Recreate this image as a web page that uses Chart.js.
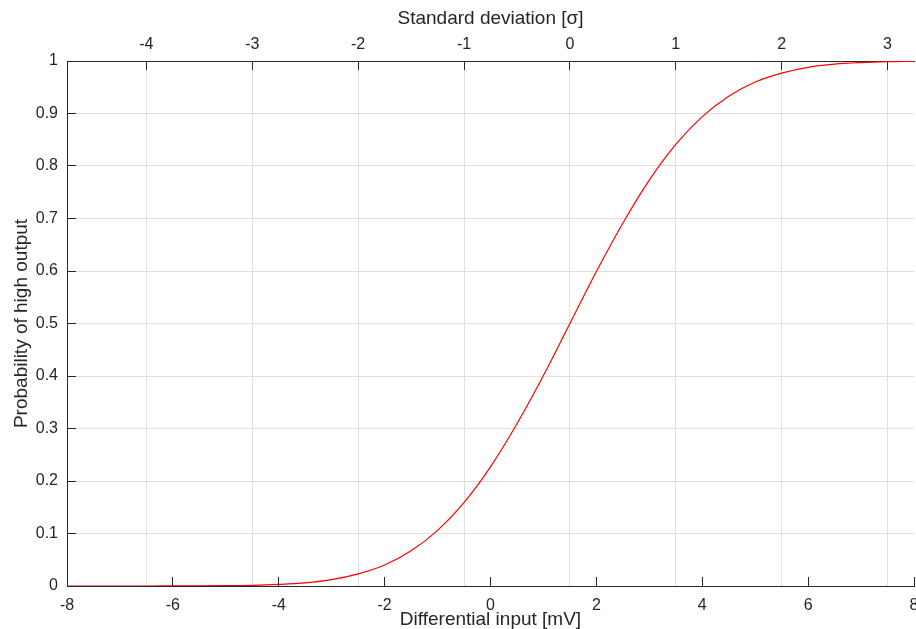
<!DOCTYPE html>
<html>
<head>
<meta charset="utf-8">
<title>Probability of high output</title>
<script src="https://cdn.jsdelivr.net/npm/chart.js@4.4.1/dist/chart.umd.min.js"></script>
<style>
  html, body { margin: 0; padding: 0; background: #fff; }
  canvas { display: block; }
</style>
</head>
<body>
<canvas id="chart" width="916" height="629"></canvas>
<script>
// Datos (curva en forma de S)
const inputMv = [-8, -7.5, -7, -6.5, -6, -5.5, -5, -4.5, -4, -3.5, -3, -2.5, -2, -1.5, -1, -0.5,
                 0, 0.5, 1, 1.5, 2, 2.5, 3, 3.5, 4, 4.5, 5, 5.5, 6, 6.5, 7, 7.5, 8];
const probHigh = [0, 0, 0, 0, 0.0001, 0.0002, 0.0006, 0.0013, 0.003, 0.006, 0.012, 0.023, 0.040, 0.067, 0.106, 0.159,
                  0.227, 0.309, 0.401, 0.5, 0.599, 0.691, 0.773, 0.841, 0.894, 0.933, 0.960, 0.977, 0.988, 0.994, 0.997, 0.9987, 0.9994];

// Ticks de los ejes
const mvTicks = [-8, -6, -4, -2, 0, 2, 4, 6, 8];
const sigmaTicks = [-4, -3, -2, -1, 0, 1, 2, 3];
const probTicks = [0, 0.1, 0.2, 0.3, 0.4, 0.5, 0.6, 0.7, 0.8, 0.9, 1];
const sigmaRange = [-4.75, 3.25];

const axisColor = '#262626';
const gridColor = '#dfdfdf';
const fontFamily = '"Liberation Sans", Arial, Helvetica, sans-serif';

const setTicks = (values) => (scale) => {
    scale.ticks = values.map(v => ({ value: v }));
};

// sin padding automático a los lados (la etiqueta "8" queda cortada como en el original)
const fitHorizontal = (height) => (scale) => {
    scale.height = height;
    scale.paddingLeft = 0;
    scale.paddingRight = 0;
};

new Chart(document.getElementById('chart'), {
    type: 'line',
    data: {
        datasets: [{
            data: inputMv.map((x, i) => ({ x, y: probHigh[i] })),
            borderColor: '#ff0000',
            borderWidth: 1.2,
            pointRadius: 0,
            fill: false,
            cubicInterpolationMode: 'monotone',
            xAxisID: 'x',
            yAxisID: 'y'
        }]
    },
    options: {
        responsive: false,
        animation: false,
        layout: { autoPadding: false, padding: { left: 0, top: 0, right: 2, bottom: 0 } },
        plugins: { legend: { display: false }, tooltip: { enabled: false } },
        scales: {
            x: {
                type: 'linear',
                position: 'bottom',
                min: -8,
                max: 8,
                afterBuildTicks: setTicks(mvTicks),
                afterFit: fitHorizontal(43),
                border: { display: true, color: axisColor, width: 1 },
                grid: { drawOnChartArea: false, drawTicks: true, tickLength: -9, tickColor: axisColor },
                ticks: { color: axisColor, padding: 19, maxRotation: 0, autoSkip: false,
                         font: { family: fontFamily, size: 16 } },
                title: { display: true, text: 'Differential input [mV]', color: axisColor,
                         padding: { top: 0, bottom: 0 }, font: { family: fontFamily, size: 19, lineHeight: 1 } }
            },
            x2: {
                type: 'linear',
                position: 'top',
                min: sigmaRange[0],
                max: sigmaRange[1],
                afterBuildTicks: setTicks(sigmaTicks),
                afterFit: fitHorizontal(61),
                border: { display: true, color: axisColor, width: 1 },
                grid: { color: gridColor, drawTicks: true, tickLength: -9, tickColor: axisColor },
                ticks: { color: axisColor, padding: 16, maxRotation: 0, autoSkip: false,
                         font: { family: fontFamily, size: 16 } },
                title: { display: true, text: 'Standard deviation [σ]', color: axisColor,
                         padding: { top: 9, bottom: 0 }, font: { family: fontFamily, size: 19, lineHeight: 1 } }
            },
            y: {
                type: 'linear',
                position: 'left',
                min: 0,
                max: 1,
                afterBuildTicks: setTicks(probTicks),
                afterFit: (s) => { s.width = 67; },
                border: { display: true, color: axisColor, width: 1 },
                grid: { color: gridColor, drawTicks: true, tickLength: -9, tickColor: axisColor },
                ticks: { color: axisColor, padding: 18, autoSkip: false,
                         callback: (v) => String(+v.toFixed(1)),
                         font: { family: fontFamily, size: 16 } },
                title: { display: true, text: 'Probability of high output', color: axisColor,
                         padding: { top: 12, bottom: 0 }, font: { family: fontFamily, size: 19, lineHeight: 1 } }
            }
        }
    }
});
</script>
</body>
</html>
